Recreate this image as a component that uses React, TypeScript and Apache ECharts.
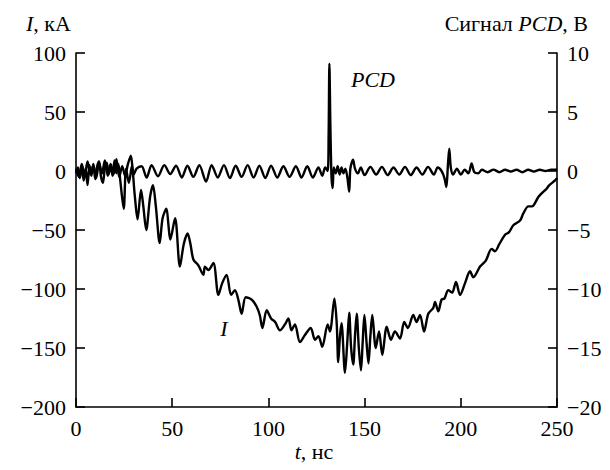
import React, { useEffect, useRef } from "react";
import * as echarts from "echarts";

// Current I (kA) vs time t (ns)
const tI = [
  0, 1, 2, 3, 4, 5, 6, 7, 8, 9, 10, 11, 12, 13, 14, 15, 16, 17, 18, 19, 20, 21, 22, 23,
  24.8, 26, 27.5, 29, 30.5, 32, 33.8, 35, 36.5, 38.5, 40, 41.5, 43.5, 45, 47, 48, 49,
  51.5, 54, 56, 58, 59.5, 61, 63.6, 66.2, 67, 68.8, 71.4, 74, 76, 78.3, 80.6, 82.6,
  84.5, 86.1, 88.2, 91.3, 93.9, 95.5, 96.9, 99.1, 101.4, 103.5, 106, 108.6, 110.4,
  112, 113.8, 116.4, 119, 122, 124.2, 126, 128, 130.8, 132, 134.3, 135.5, 136.3,
  137.2, 138, 139.8, 141, 142, 143, 144.1, 145, 145.9, 147, 148.1, 149, 149.9, 151,
  152, 153, 154, 155.8, 157.5, 159.2, 161.5, 163.7, 165.8, 168.4, 170.6, 172.5,
  175.3, 177, 178.8, 180.9, 183.1, 185.7, 186.6, 188.3, 190, 191.5, 193.5, 195.5,
  197.5, 199.6, 202.2, 204.8, 206.5, 210, 213, 216, 217.8, 220, 223, 225, 227.3,
  230.8, 232.5, 235.1, 237, 240.3, 242, 244.6, 246, 249, 250,
];
const iKA = [
  -2, 3, -6, 4, -8, 2, -12, 5, -4, 6, -7, 4, 8, -5, -10, 3, 7, -3, 5, -4, 9, -2, 6, -8,
  -32, 2, -10, 4, -20, -41, -16, -30, -50, -22, -12, -30, -61, -40, -32, -45, -58,
  -40, -81, -62, -53, -62, -75, -80, -88, -81, -84, -78, -105, -95, -88, -105, -101,
  -110, -121, -107, -109, -115, -122, -133, -118, -125, -128, -135, -130, -125,
  -135, -130, -145, -139, -133, -143, -140, -149, -130, -136, -108, -129, -162,
  -140, -129, -171, -145, -120, -150, -164, -140, -121, -150, -169, -145, -122, -145,
  -163, -140, -122, -150, -136, -156, -132, -143, -136, -142, -128, -133,
  -122, -128, -122, -136, -121, -116, -111, -119, -109, -108, -101, -103,
  -94, -105, -95, -85, -90, -81, -76, -66, -68, -62, -54, -52, -46,
  -42, -36, -30, -30, -22, -19, -15, -12, -8, -6,
];

// PCD signal (V) vs time t (ns)
const tPCD = [
  0, 1.5, 3, 4.5, 6, 7.5, 9, 10.5, 12, 13.5, 15, 16.5, 18, 19.5, 21, 22.5, 24, 25.5,
  27, 28.5, 30, 31.5, 34.1, 36.7, 39.3, 42.6, 45.9, 49, 52, 55, 57.9, 61, 64.1, 67.6,
  70.5, 73.7, 76.9, 80, 83, 86.1, 89.2, 92.3, 95.3, 98.4, 101.4, 104.6, 107.8, 111,
  114.3, 117.2, 120.2, 123.1, 126, 128, 129.5, 130.8, 131.3, 131.7, 132.2, 132.8,
  133.4, 134, 135, 136, 137, 138, 139, 140, 141, 142, 142.6, 144, 145, 146.5, 148,
  150, 153, 156, 159, 162, 165, 168, 171, 174, 177, 180, 183, 186, 188, 190, 191.5,
  192.5, 193.3, 194, 194.8, 196, 198, 200, 202, 204, 205.6, 207, 209, 211, 214, 217,
  220, 223, 226, 229, 232, 235, 238, 241, 244, 247, 250,
];
const pcdV = [
  0.2, -0.5, 0.6, -0.4, 0.8, -0.3, 0.5, -0.6, 0.7, -0.2, 0.9, -0.4, 0.6, -0.3, 1.0,
  -0.5, 0.4, -0.4, 0.6, 1.3, -0.3, 0.2, 0.4, -0.56, 0.5, -0.45, 0.5, -0.25, 0.45,
  -0.55, 0.45, -0.5, 0.5, -0.9, 0.5, -0.55, 0.5, -0.6, 0.45, -0.5, 0.5, -0.55, 0.45,
  -0.6, 0.45, -0.55, 0.4, -0.5, 0.4, -0.55, 0.4, -0.55, 0.3, -0.4, 0.3, 0, 3, 9.1, 4,
  -0.5, -1.45, 0.3, -0.2, 0.4, -0.3, 0.3, -0.2, 0.2, -0.5, -1.75, 0.2, 0.95, 0.2,
  -0.2, 0.3, -0.35, 0.35, -0.3, 0.35, -0.35, 0.3, -0.3, 0.35, -0.35, 0.3, -0.3,
  0.35, -0.3, 0.3, 0, -0.6, -1.35, 0.5, 1.9, 0.3, -0.3, 0.2, -0.3, 0.1, -0.2, 0.65,
  -0.1, -0.2, 0.1, -0.1, 0.12, -0.1, 0.1, -0.05, 0.1, -0.1, 0.1, -0.05, 0.1, 0,
  0.12, 0.1,
];

const xTicks = { min: 0, max: 250, interval: 50 };
const leftTicks = { min: -200, max: 100, interval: 50 };
const rightTicks = { min: -20, max: 10, interval: 5 };

const AXIS_FONT = "serif";
const TITLE_FONT = "Liberation Serif";
const fmt = (v: number) => (v < 0 ? "\u2212" + Math.abs(v) : String(v));

const axisCommon = {
  axisLine: { show: true, onZero: false, lineStyle: { color: "#000", width: 1.6 } },
  axisTick: { show: true, inside: true, length: 9, lineStyle: { color: "#000", width: 1.6 } },
  splitLine: { show: false },
};
const labelStyle = { color: "#000", fontSize: 22, fontFamily: AXIS_FONT, margin: 10 };

export default function App() {
  const ref = useRef<HTMLDivElement>(null);
  useEffect(() => {
    if (!ref.current) return;
    const chart = echarts.init(ref.current, null, { renderer: "svg" });
    const richI = { i: { fontStyle: "italic", fontSize: 22, fontFamily: TITLE_FONT } };
    chart.setOption({
      animation: false,
      grid: { left: 76, right: 53, top: 53, bottom: 63 },
      xAxis: {
        type: "value",
        ...xTicks,
        ...axisCommon,
        axisLabel: { ...labelStyle },
      },
      yAxis: [
        {
          type: "value",
          position: "left",
          ...leftTicks,
          ...axisCommon,
          axisLabel: { ...labelStyle, formatter: fmt },
        },
        {
          type: "value",
          position: "right",
          ...rightTicks,
          ...axisCommon,
          axisLabel: { ...labelStyle, formatter: fmt },
        },
      ],
      graphic: [
        {
          type: "text",
          x: 26,
          y: 12,
          style: {
            text: "{i|I}, кА",
            fontSize: 22,
            fontFamily: TITLE_FONT,
            fill: "#000",
            rich: richI,
          },
        },
        {
          type: "text",
          x: 588,
          y: 12,
          style: {
            text: "Сигнал {i|PCD}, В",
            fontSize: 22,
            fontFamily: TITLE_FONT,
            fill: "#000",
            align: "right",
            rich: richI,
          },
        },
        {
          type: "text",
          x: 314,
          y: 451,
          style: {
            text: "{i|t}, нс",
            fontSize: 22,
            fontFamily: TITLE_FONT,
            fill: "#000",
            align: "center",
            verticalAlign: "middle",
            rich: richI,
          },
        },
        {
          type: "text",
          x: 373,
          y: 79,
          style: {
            text: "PCD",
            fontSize: 22,
            fontStyle: "italic",
            fontFamily: TITLE_FONT,
            fill: "#000",
            align: "center",
            verticalAlign: "middle",
          },
        },
        {
          type: "text",
          x: 224,
          y: 328,
          style: {
            text: "I",
            fontSize: 22,
            fontStyle: "italic",
            fontFamily: TITLE_FONT,
            fill: "#000",
            align: "center",
            verticalAlign: "middle",
          },
        },
      ],
      series: [
        {
          name: "I",
          type: "line",
          yAxisIndex: 0,
          data: tI.map((t, k) => [t, iKA[k]]),
          showSymbol: false,
          smooth: 0.3,
          lineStyle: { color: "#000", width: 2.4 },
        },
        {
          name: "PCD",
          type: "line",
          yAxisIndex: 1,
          data: tPCD.map((t, k) => [t, pcdV[k]]),
          showSymbol: false,
          smooth: 0.3,
          lineStyle: { color: "#000", width: 2.4 },
        },
      ],
    });
    return () => chart.dispose();
  }, []);
  return (
    <div
      ref={ref}
      style={{ position: "fixed", left: 0, top: 0, width: 610, height: 470, background: "#fff" }}
    />
  );
}
